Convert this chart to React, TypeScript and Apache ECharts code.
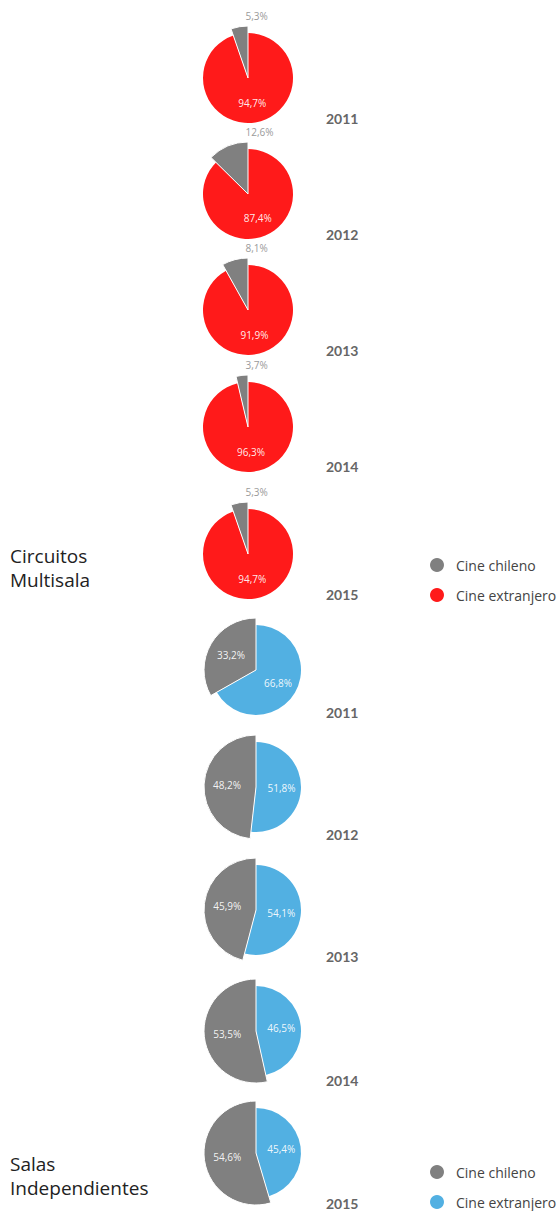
import React, { useEffect, useRef } from "react";
import * as echarts from "echarts";

const years = ["2011", "2012", "2013", "2014", "2015"];
const groupNames = ["Circuitos\nMultisala", "Salas\nIndependientes"];
const legendNames = ["Cine chileno", "Cine extranjero"];
const multisalaChileno = [5.3, 12.6, 8.1, 3.7, 5.3];
const multisalaExtranjero = [94.7, 87.4, 91.9, 96.3, 94.7];
const independChileno = [33.2, 48.2, 45.9, 53.5, 54.6];
const independExtranjero = [66.8, 51.8, 54.1, 46.5, 45.4];

const GRAY = "#808080";
const RED = "#ff1a1a";
const BLUE = "#52b0e2";
const FONT = "'Open Sans', Lato, sans-serif";
const YFONT = "Lato, 'Open Sans', sans-serif";

const fmt = (v: number) => v.toFixed(1).replace(".", ",") + "%";

export default function App() {
  const ref = useRef<HTMLDivElement>(null);
  useEffect(() => {
    document.body.style.margin = "0";
    const chart = echarts.init(ref.current!, null, { renderer: "svg" });

    const groups = [
      { chi: multisalaChileno, ext: multisalaExtranjero, color: RED, cx: 248, cys: [78, 194, 310, 427, 554], outside: true },
      { chi: independChileno, ext: independExtranjero, color: BLUE, cx: 256, cys: [670, 787, 910, 1031, 1153], outside: false },
    ];
    const series: any[] = [];
    groups.forEach((g) => {
      g.cys.forEach((cy, i) => {
        series.push({
          type: "pie",
          center: [g.cx, cy],
          radius: 45,
          startAngle: 90,
          clockwise: true,
          z: 2,
          avoidLabelOverlap: false,
          emphasis: { disabled: true },
          labelLine: { show: false },
          data: [
            {
              name: legendNames[1],
              value: g.ext[i],
              itemStyle: { color: g.color },
              label: { show: true, position: "inside", formatter: (p: any) => fmt(p.value), color: "rgba(255,255,255,0.92)", fontSize: 10, fontFamily: FONT },
            },
            { name: legendNames[0], value: g.chi[i], itemStyle: { color: "transparent" }, label: { show: false } },
          ],
        });
        series.push({
          type: "pie",
          center: [g.cx, cy],
          radius: 52,
          startAngle: 90,
          clockwise: true,
          z: 3,
          avoidLabelOverlap: false,
          emphasis: { disabled: true },
          labelLine: { show: false },
          labelLayout: g.outside
            ? (p: any) => {
                if (p.dataIndex !== 1) return {};
                return { x: p.rect.x + p.rect.width - 3, y: p.rect.y - 10, align: "left", verticalAlign: "middle" };
              }
            : undefined,
          data: [
            { name: legendNames[1], value: g.ext[i], itemStyle: { color: "transparent", borderWidth: 0 }, label: { show: false } },
            {
              name: legendNames[0],
              value: g.chi[i],
              itemStyle: { color: GRAY, borderColor: "#ffffff", borderWidth: 1 },
              label: {
                show: true,
                position: g.outside ? "outside" : "inside",
                formatter: (p: any) => fmt(p.value),
                color: g.outside ? "#9a9a9a" : "rgba(255,255,255,0.92)",
                fontSize: 10,
                fontFamily: FONT,
              },
            },
          ],
        });
      });
    });

    const yearYs = [118, 234, 350, 466, 594, 712, 834, 956, 1080, 1203];
    const graphics: any[] = [];
    [...years, ...years].forEach((y, i) => {
      graphics.push({
        type: "text",
        x: 326,
        y: yearYs[i],
        style: { text: y, font: `bold 14px ${YFONT}`, fill: "#666666", verticalAlign: "middle" },
      });
    });
    const groupTops = [544, 1152];
    groupNames.forEach((n, i) => {
      graphics.push({
        type: "text",
        x: 10,
        y: groupTops[i],
        style: { text: n, font: `19px ${FONT}`, fill: "#222222", lineHeight: 24 },
      });
    });

    const mkLegend = (top: number, color: string) => ({
      orient: "vertical",
      left: 430,
      top,
      padding: 0,
      icon: "circle",
      itemWidth: 14,
      itemHeight: 14,
      itemGap: 16,
      selectedMode: false,
      textStyle: { fontSize: 14, color: "#444444", fontFamily: FONT, padding: [0, 0, 0, 7] },
      data: [
        { name: legendNames[0], itemStyle: { color: GRAY } },
        { name: legendNames[1], itemStyle: { color } },
      ],
    });

    chart.setOption({
      animation: false,
      backgroundColor: "#ffffff",
      legend: [mkLegend(558, RED), mkLegend(1165, BLUE)],
      series,
      graphic: graphics,
    });
    return () => chart.dispose();
  }, []);
  return <div ref={ref} style={{ width: 560, height: 1211 }} />;
}
